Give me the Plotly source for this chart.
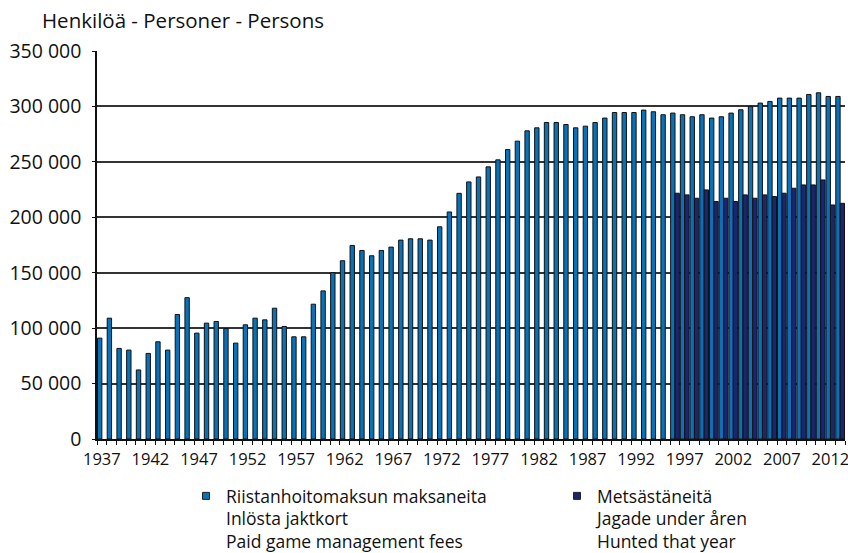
import plotly.graph_objects as go

years = list(range(1937, 2014))

paid_fees = [
    91000, 109000, 81700, 80200, 62300, 77200, 87700, 80200, 112300, 127500,
    95500, 104500, 106000, 99700, 86500, 103000, 109000, 107500, 118000, 101500,
    92200, 92200, 121600, 133600, 150000, 160800, 174600, 170100, 165300, 170100,
    173100, 179400, 180600, 180600, 179400, 191400, 204800, 221600, 231900, 236400,
    245500, 251800, 261100, 268700, 278000, 280700, 285500, 285500, 283700, 280700,
    282200, 285500, 289500, 294500, 294500, 294500, 296700, 295200, 292500, 294000,
    292500, 290700, 292500, 289500, 290700, 294000, 297000, 300000, 303000, 304500,
    307500, 307500, 307500, 310800, 312300, 309000, 309000,
]

hunted_years = list(range(1996, 2014))
hunted_vals = [
    221700, 220200, 217200, 224700, 214200, 217200, 214200, 220200, 217200, 220200,
    218700, 221700, 226200, 229200, 229200, 233700, 211100, 212600,
]
hunted = [None] * len(years)
for y, v in zip(hunted_years, hunted_vals):
    hunted[years.index(y)] = v

y_ticks = [0, 50000, 100000, 150000, 200000, 250000, 300000, 350000]
y_tick_text = ["0", "50 000", "100 000", "150 000", "200 000", "250 000", "300 000", "350 000"]
x_ticks = list(range(1937, 2013, 5))

name_paid = "Riistanhoitomaksun maksaneita<br>Inlösta jaktkort<br>Paid game management fees"
name_hunted = "Metsästäneitä<br>Jagade under åren<br>Hunted that year"

c_light = "#0872B9"
c_dark = "#1C2570"

W, H = 848, 553
ML, MR, MT, MB = 97, 3, 51, 114
PW = W - ML - MR
PH = H - MT - MB

fig = go.Figure()
fig.add_trace(go.Bar(x=years, y=paid_fees, marker=dict(color=c_light, line=dict(color="#111", width=1)),
                     showlegend=False, name="paid"))
fig.add_trace(go.Bar(x=years, y=hunted, marker=dict(color=c_dark, line=dict(color="#111", width=1)),
                     showlegend=False, name="hunted"))
# legend entries
fig.add_trace(go.Scatter(x=[None], y=[None], mode="markers", name=name_paid, legend="legend",
                         marker=dict(symbol="square", size=7, color=c_light, line=dict(color="#222", width=1))))
fig.add_trace(go.Scatter(x=[None], y=[None], mode="markers", name=name_hunted, legend="legend2",
                         marker=dict(symbol="square", size=7, color=c_dark, line=dict(color="#222", width=1))))

leg_y = -(478 - (MT + PH)) / PH
leg_common = dict(orientation="h", xanchor="left", y=leg_y, yanchor="top",
                  font=dict(size=17.5, color="#111"), valign="top", itemwidth=30,
                  bgcolor="rgba(0,0,0,0)")

fig.update_layout(
    width=W, height=H,
    margin=dict(l=ML, r=MR, t=MT, b=MB, autoexpand=False),
    paper_bgcolor="white", plot_bgcolor="white",
    barmode="group", bargap=0.1, bargroupgap=0,
    font=dict(family="Open Sans", color="#111"),
    title=dict(text="Henkilöä - Personer - Persons", x=42/W, xanchor="left",
               y=1 - 21/H, yanchor="middle", font=dict(size=20.5, color="#111")),
    legend=dict(x=(186 - ML)/PW, **leg_common),
    legend2=dict(x=(557 - ML)/PW, **leg_common),
)
fig.update_xaxes(range=[1936.5, 2013.5], tickvals=x_ticks, ticktext=[str(v) for v in x_ticks],
                 ticks="", showline=True, linecolor="#111", linewidth=1.5, showgrid=False,
                 tickfont=dict(size=16.5, color="#111"), zeroline=False, ticklabelstandoff=4,
                 ticklabeloverflow="allow",
                 minor=dict(ticks="outside", tick0=1936.5, dtick=1, ticklen=4, tickcolor="#111", showgrid=False))
fig.update_yaxes(range=[0, 350000], tickvals=y_ticks, ticktext=y_tick_text,
                 showline=True, linecolor="#111", linewidth=1.5,
                 showgrid=True, gridcolor="#333", gridwidth=1.5,
                 ticks="outside", ticklen=3, tickcolor="#111", ticklabelstandoff=7,
                 tickfont=dict(size=19.5, color="#111"), zeroline=False)

fig.write_html("out.html", config={"displayModeBar": False},
               post_script="document.body.style.margin='0';document.body.style.overflow='hidden';")
